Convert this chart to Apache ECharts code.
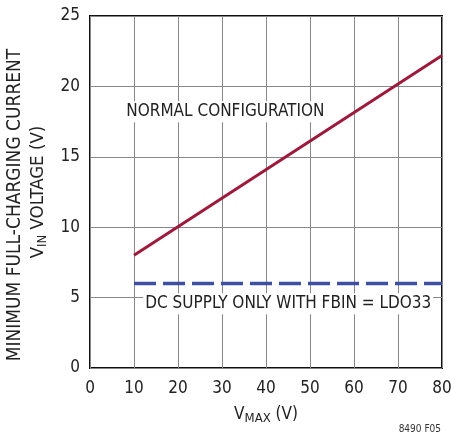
<!DOCTYPE html>
<html><head><meta charset="utf-8">
<script src="https://cdn.jsdelivr.net/npm/echarts@6/dist/echarts.min.js"></script>
<style>html,body{margin:0;padding:0;background:#fff}#c{width:451px;height:436px}</style>
</head><body><div id="c"></div>
<script>
const xTicks = [0, 10, 20, 30, 40, 50, 60, 70, 80];
const yTicks = [0, 5, 10, 15, 20, 25];
const normalX = [10, 80];
const normalY = [8.0, 22.2];
const dcX = [10, 80];
const dcY = [6.0, 6.0];
const labelNormal = 'NORMAL CONFIGURATION';
const labelDC = 'DC SUPPLY ONLY WITH FBIN = LDO33';
const FONT = "'DejaVu Sans Condensed','Liberation Sans',sans-serif";
const chart = echarts.init(document.getElementById('c'));
chart.setOption({
  animation: false,
  textStyle: {fontFamily: FONT},
  grid: {left: 90, right: 9, top: 16, bottom: 68, show: true, borderColor: '#111', borderWidth: 2, outerBoundsMode: 'none', containLabel: false},
  xAxis: {
    type: 'value', min: 0, max: 80, interval: 10,
    axisLine: {show: false}, axisTick: {show: false},
    splitLine: {lineStyle: {color: '#888', width: 1}},
    axisLabel: {fontSize: 17, color: '#222', margin: 12, fontFamily: FONT},
    name: '{n|V}{s|MAX}{n| (V)}', nameLocation: 'middle', nameGap: 36,
    nameTextStyle: {rich: {n: {fontSize: 17, color: '#222', fontFamily: FONT}, s: {fontSize: 13, color: '#222', fontFamily: FONT, padding: [8, 0, 0, 0]}}}
  },
  yAxis: {
    type: 'value', min: 0, max: 25, interval: 5,
    axisLine: {show: false}, axisTick: {show: false},
    splitLine: {lineStyle: {color: '#888', width: 1}},
    axisLabel: {fontSize: 17, color: '#222', margin: 10, fontFamily: FONT},
    name: '{f|MINIMUM FULL-CHARGING CURRENT}\n{n|V}{s|IN}{n| VOLTAGE (V)}', nameLocation: 'middle', nameGap: 31, nameRotate: 90,
    nameTextStyle: {lineHeight: 23, rich: {
      f: {fontSize: 19, color: '#222', fontFamily: FONT, lineHeight: 23, padding: [0, 26, 0, 0]},
      n: {fontSize: 18.5, color: '#222', fontFamily: FONT, lineHeight: 23},
      s: {fontSize: 13, color: '#222', fontFamily: FONT, padding: [9, 0, 0, 0], lineHeight: 23}}}
  },
  series: [
    {
      type: 'line', data: normalX.map((x, i) => [x, normalY[i]]), symbol: 'none',
      lineStyle: {color: '#9E1A3C', width: 3}, z: 3,
      markPoint: {
        symbol: 'rect', symbolSize: 0, silent: true,
        data: [{coord: [7.8, 18.2], value: labelNormal}],
        label: {show: true, position: 'right', distance: 0, formatter: labelNormal, fontSize: 17, color: '#222', fontFamily: FONT, backgroundColor: '#fff', padding: [2, 2]}
      }
    },
    {
      type: 'line', data: dcX.map((x, i) => [x, dcY[i]]), symbol: 'none',
      lineStyle: {color: '#3D4FA3', width: 3.5, type: [22, 7]}, z: 3,
      markPoint: {
        symbol: 'rect', symbolSize: 0, silent: true,
        data: [{coord: [12.1, 4.57], value: labelDC}],
        label: {show: true, position: 'right', distance: 0, formatter: labelDC, fontSize: 17, color: '#222', fontFamily: FONT, backgroundColor: '#fff', padding: [2, 2]}
      }
    }
  ],
  graphic: [{type: 'text', right: 10, bottom: 2, style: {text: '8490 F05', fontSize: 10, fill: '#333', fontFamily: FONT}}]
});
</script></body></html>
